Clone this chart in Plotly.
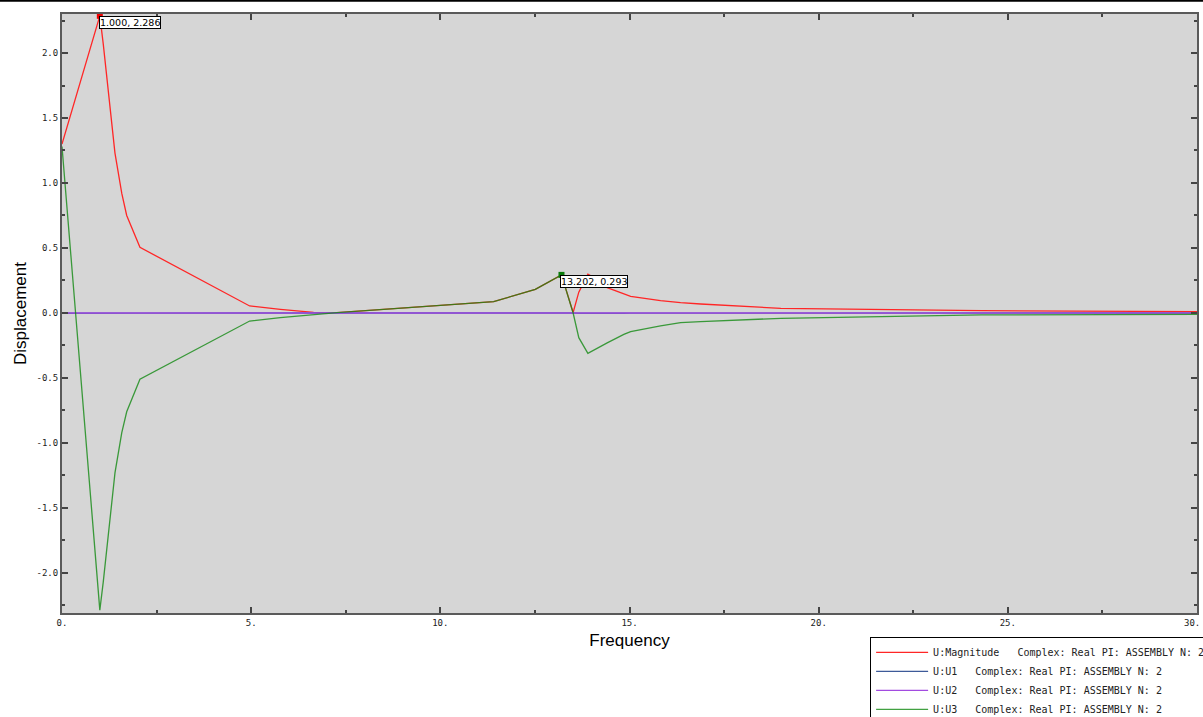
import plotly.graph_objects as go

# ---- data ----
freq = [0.0, 1.0, 1.09, 1.27, 1.40, 1.58, 1.71, 2.06, 4.96, 5.77, 6.30, 6.65, 7.27,
        8.50, 9.50, 10.79, 11.41, 12.51, 13.202, 13.51, 13.66, 13.90, 14.05, 14.41,
        14.85, 15.03, 15.82, 16.35, 16.88, 19.0, 24.3, 30.0]
u_mag = [1.30, 2.286, 2.07, 1.56, 1.23, 0.92, 0.75, 0.505, 0.054, 0.028, 0.015, 0.005, 0.003,
         0.028, 0.048, 0.075, 0.087, 0.182, 0.293, 0.004, 0.16, 0.298, 0.275, 0.195,
         0.145, 0.128, 0.095, 0.079, 0.069, 0.036, 0.018, 0.010]
u_u1 = [-0.002, -0.004, -0.004, -0.003, -0.003, -0.002, -0.002, -0.001, 0.0, 0.0, 0.0, 0.0, 0.0,
        0.001, 0.001, 0.002, 0.002, 0.003, 0.005, 0.0, -0.002, -0.003, -0.003, -0.002,
        -0.002, -0.001, -0.001, -0.001, -0.001, 0.0, 0.0, 0.0]
u_u2 = [0.0] * len(freq)
u_u3 = [1.28, -2.286, -2.07, -1.56, -1.23, -0.92, -0.76, -0.51, -0.062, -0.035, -0.020, -0.010, 0.003,
        0.028, 0.048, 0.075, 0.087, 0.182, 0.293, 0.0, -0.19, -0.31, -0.285, -0.23,
        -0.165, -0.144, -0.10, -0.074, -0.067, -0.041, -0.015, -0.010]

series_names = [
    "U:Magnitude\u00a0\u00a0\u00a0Complex: Real PI: ASSEMBLY N: 2",
    "U:U1\u00a0\u00a0\u00a0Complex: Real PI: ASSEMBLY N: 2",
    "U:U2\u00a0\u00a0\u00a0Complex: Real PI: ASSEMBLY N: 2",
    "U:U3\u00a0\u00a0\u00a0Complex: Real PI: ASSEMBLY N: 2",
]
x_tickvals = [0, 5, 10, 15, 20, 25, 30]
x_ticktext = ["0.", "5.", "10.", "15.", "20.", "25.", "30."]
y_tickvals = [-2.0, -1.5, -1.0, -0.5, 0.0, 0.5, 1.0, 1.5, 2.0]
y_ticktext = ["-2.0", "-1.5", "-1.0", "-0.5", "0.0", "0.5", "1.0", "1.5", "2.0"]

# markers (probe points)
mag_peak_idx = 1
u3_peak_idx = 18

colors = ["#ff2626", "#3d5a99", "#a24be0", "#138a13"]

fig = go.Figure()
for name, ys, col, op in zip(series_names, [u_mag, u_u1, u_u2, u_u3], colors, [1.0, 1.0, 1.0, 0.8]):
    fig.add_trace(go.Scatter(x=freq, y=ys, mode="lines", name=name,
                             line=dict(color=col, width=1.3), opacity=op))

fig.add_trace(go.Scatter(x=[freq[mag_peak_idx]], y=[u_mag[mag_peak_idx]], mode="markers",
                         marker=dict(symbol="square", size=6, color="#ee0000"), showlegend=False))
fig.add_trace(go.Scatter(x=[freq[u3_peak_idx]], y=[u_u3[u3_peak_idx]], mode="markers",
                         marker=dict(symbol="square", size=6, color="#0a7a0a"), showlegend=False))

for xi, yi in [(freq[mag_peak_idx], u_mag[mag_peak_idx]), (freq[u3_peak_idx], u_u3[u3_peak_idx])]:
    fig.add_annotation(x=xi, y=yi, text=f"{xi:.3f}, {yi:.3f}", showarrow=False,
                       xanchor="left", yanchor="top", bgcolor="white", bordercolor="black",
                       borderwidth=1, borderpad=0, xshift=-1,
                       font=dict(family="DejaVu Sans", size=9.5, color="black"))

tick_font = dict(family="DejaVu Sans Mono", size=9, color="#222222")
axis_common = dict(showline=True, linecolor="#5a5a5a", linewidth=2, mirror="ticks",
                   ticks="inside", ticklen=6, tickwidth=1.5, tickcolor="#444444",
                   showgrid=False, zeroline=False, tickfont=tick_font)

# last x label is pulled inside the page (as in the reference); drawn as text at the tick
x_ticktext_axis = x_ticktext[:-1] + [""]
fig.add_annotation(x=x_tickvals[-1], y=0, xref="x", yref="paper", text=x_ticktext[-1],
                   showarrow=False, xanchor="right", yanchor="top", xshift=5, yshift=-3,
                   font=tick_font)

fig.update_xaxes(range=[0, 30], tickvals=x_tickvals, ticktext=x_ticktext_axis,
                 minor=dict(ticks="inside", ticklen=3, tickwidth=1.5, tickcolor="#444444", dtick=2.5, showgrid=False),
                 title=dict(text="Frequency", standoff=7,
                            font=dict(family="Liberation Sans", size=17, color="black")),
                 **axis_common)
fig.update_yaxes(range=[-2.308, 2.30], tickvals=y_tickvals, ticktext=y_ticktext,
                 minor=dict(ticks="inside", ticklen=3, tickwidth=1.5, tickcolor="#444444", dtick=0.25, tick0=0, showgrid=False),
                 title=dict(text="Displacement", standoff=6,
                            font=dict(family="Liberation Sans", size=17, color="black")),
                 **axis_common)

fig.add_shape(type="line", xref="paper", yref="paper", x0=-0.1, x1=1.1, y0=1.022, y1=1.022,
              line=dict(color="black", width=2))

fig.update_layout(
    width=1203, height=717,
    margin=dict(l=62, r=6, t=14, b=104, autoexpand=False),
    paper_bgcolor="white", plot_bgcolor="#d6d6d6",
    showlegend=True,
    legend=dict(x=0.712, y=-0.04, xanchor="left", yanchor="top",
                bgcolor="white", bordercolor="black", borderwidth=1,
                font=dict(family="DejaVu Sans Mono", size=10, color="#222222"),
                tracegroupgap=0, itemwidth=52),
)

fig.write_html("out.html", config={"displayModeBar": False},
               post_script="document.body.style.margin='0px';")
